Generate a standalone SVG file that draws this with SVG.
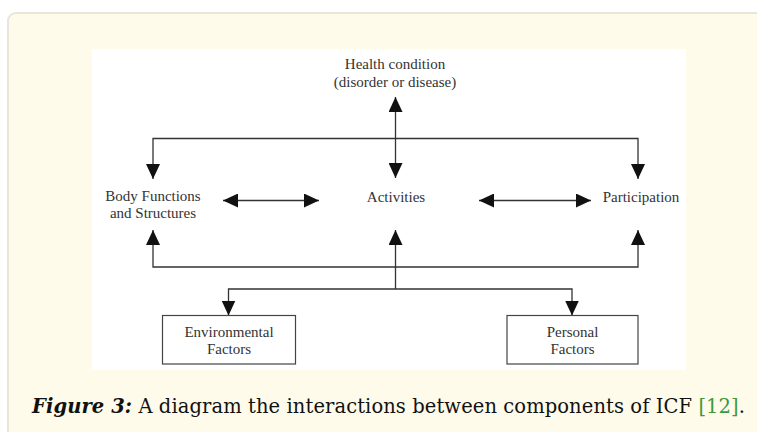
<svg xmlns="http://www.w3.org/2000/svg" width="757" height="432" viewBox="0 0 757 432">
<defs>
<style>
.lbl{font-family:"Liberation Serif","Times New Roman",serif;font-size:15px;fill:#333;text-anchor:middle}
.ln{stroke:#333;stroke-width:1.3;fill:none}
.box{fill:#fff;stroke:#444;stroke-width:1.2}
.cap{font-family:"DejaVu Serif","Liberation Serif",serif;font-size:19.5px;fill:#111}
</style>
<marker id="ah" viewBox="0 0 15 14" refX="15" refY="7" markerWidth="15" markerHeight="14" markerUnits="userSpaceOnUse" orient="auto-start-reverse">
<path d="M0,0 L15,7 L0,14 Z" fill="#111"/>
</marker>
</defs>
<rect x="8" y="13" width="770" height="440" rx="8" fill="#fffbea" stroke="#e8e5da" stroke-width="2"/>
<rect x="92" y="49" width="594" height="321" fill="#ffffff"/>

<g id="connectors">
<path class="ln" d="M395.5,97 L395.5,178" marker-start="url(#ah)" marker-end="url(#ah)"/>
<path class="ln" d="M153,179 L153,138.5 L638,138.5 L638,179" marker-start="url(#ah)" marker-end="url(#ah)"/>
<path class="ln" d="M223,200.5 L319,200.5" marker-start="url(#ah)" marker-end="url(#ah)"/>
<path class="ln" d="M479,200.5 L591,200.5" marker-start="url(#ah)" marker-end="url(#ah)"/>
<path class="ln" d="M153,230 L153,267 L638,267 L638,230" marker-start="url(#ah)" marker-end="url(#ah)"/>
<path class="ln" d="M395.5,230 L395.5,289" marker-start="url(#ah)"/>
<path class="ln" d="M228.5,315.5 L228.5,289 L572,289 L572,315.5" marker-start="url(#ah)" marker-end="url(#ah)"/>
</g>

<g id="health">
<text class="lbl" x="395" y="69">Health condition</text>
<text class="lbl" x="395" y="87">(disorder or disease)</text>
</g>
<g id="body">
<text class="lbl" x="153" y="201">Body Functions</text>
<text class="lbl" x="153" y="218">and Structures</text>
</g>
<g id="activities">
<text class="lbl" x="396" y="202">Activities</text>
</g>
<g id="participation">
<text class="lbl" x="641" y="202">Participation</text>
</g>
<g id="environmental">
<rect class="box" x="162.5" y="315.5" width="133" height="48.5"/>
<text class="lbl" x="229" y="337">Environmental</text>
<text class="lbl" x="229" y="354">Factors</text>
</g>
<g id="personal">
<rect class="box" x="507" y="315.5" width="131" height="48.5"/>
<text class="lbl" x="572.5" y="337">Personal</text>
<text class="lbl" x="572.5" y="354">Factors</text>
</g>

<text class="cap" x="32" y="413" textLength="713" lengthAdjust="spacing"><tspan font-weight="bold" font-style="italic">Figure 3:</tspan> A diagram the interactions between components of ICF <tspan fill="#3c9a3c">[12]</tspan>.</text>
</svg>
